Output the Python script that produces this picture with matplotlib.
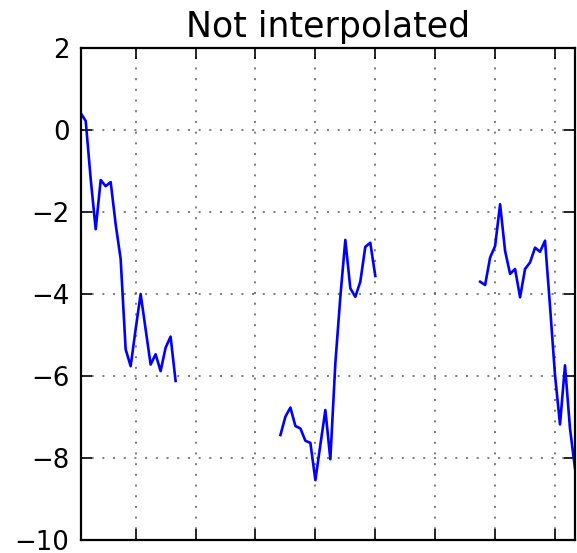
import numpy as np
import pandas as pd
import matplotlib
matplotlib.use("Agg")
import matplotlib.pyplot as plt
import matplotlib.dates as mdates

# sampled readings, 5 minute steps; the gaps are missing samples
seg_a = [0.41, 0.22, -1.20, -2.42, -1.22, -1.37, -1.27, -2.30, -3.15, -5.35,
         -5.76, -4.86, -4.00, -4.86, -5.72, -5.47, -5.88, -5.31, -5.04, -6.12]
seg_b = [-7.44, -6.99, -6.77, -7.22, -7.28, -7.58, -7.63, -8.54, -7.68, -6.83,
         -8.03, -5.69, -4.07, -2.68, -3.86, -4.07, -3.70, -2.85, -2.75, -3.56]
seg_c = [-3.70, -3.78, -3.11, -2.83, -1.81, -2.95, -3.51, -3.39, -4.08, -3.39,
         -3.23, -2.87, -2.97, -2.70, -4.30, -5.98, -7.18, -5.74, -7.28, -8.25]
gap = [np.nan] * 20

values = np.array(seg_a + gap + seg_b + gap + seg_c)
times = pd.date_range("2000-01-01 00:05", periods=len(values), freq="5min")
y_ticks = [-10, -8, -6, -4, -2, 0, 2]

fig = plt.figure(figsize=(5.77, 5.53), dpi=100)
ax = fig.add_axes([0.1399, 0.0235, 0.8566, 0.8897])

ax.plot(times, values, color="b", lw=1.9)
ax.set_title("Not interpolated", fontsize=25, pad=8)

ax.set_xlim(times[0], times[-1])
ax.set_ylim(-10, 2)
ax.set_yticks(y_ticks)
ax.xaxis.set_major_locator(mdates.HourLocator())
ax.xaxis.set_major_formatter(mdates.DateFormatter("%H:%M"))
for lbl in ax.get_xticklabels():
    lbl.set_rotation(30)
    lbl.set_ha("right")

# sparse dotted grid
ax.grid(True, color="0.35", lw=1.1, dashes=(1.3, 5.7))
ax.tick_params(direction="in", length=8, width=1.2, labelsize=18.7, pad=8,
               top=True, right=True)
for sp in ax.spines.values():
    sp.set_linewidth(1.6)

fig.savefig("out.png", dpi=100)
